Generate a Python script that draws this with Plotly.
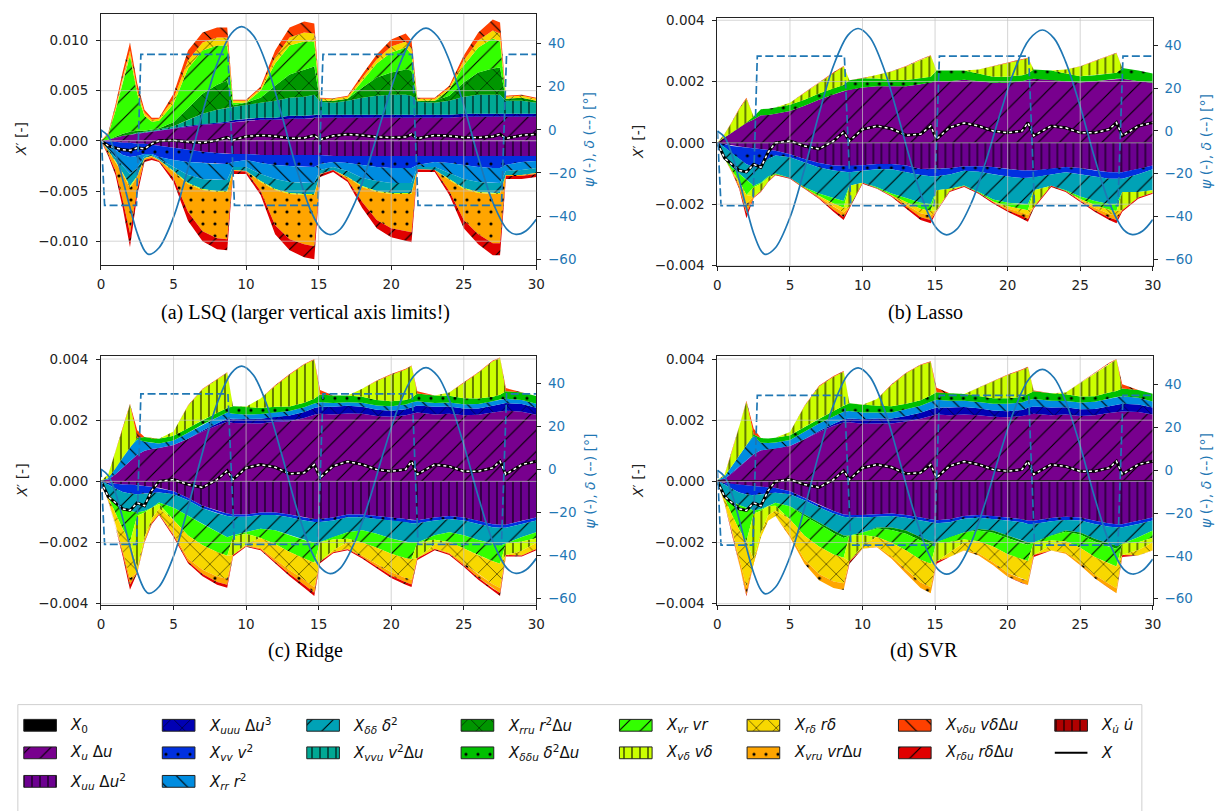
import numpy as np
import plotly.graph_objects as go

W, H = 1232, 811
U = 1e-4  # contribution arrays below are in units of 1e-4

# ---------------- time grid of the contribution series ----------------
T = [0, 0.5, 1, 1.5, 2, 2.5, 3, 3.5, 4, 5, 6, 7, 8, 8.7, 9.1, 10, 11, 12, 13, 14,
     14.7, 15.1, 16, 17, 18, 19, 20, 21, 21.4, 21.8, 23, 24, 25, 26, 27, 27.5, 27.9, 29, 30]

# ---------------- (a) LSQ ----------------
lsq_X0 = 0.0
lsq_Xu = [0, 1, 3, 5, 6, 7, 8, 9, 10, 12, 14, 16, 17, 18, 19, 20, 21, 21, 22, 22,
          23, 23, 23, 23, 23, 23, 23, 23, 23, 23, 23, 23, 24, 24, 24, 24, 24, 24, 24]
lsq_Xuu = [0, -1, -1, -2, -2, -3, -3, -4, -5, -7, -9, -11, -12, -13, -13, -13, -14, -14, -14, -14,
           -14, -14, -15, -15, -15, -15, -15, -15, -15, -15, -15, -15, -15, -15, -15, -15, -15, -15, -15]
lsq_Xuuu = [0, 0, 0, 0, 0, 0, 0, 0, 0.5, 0.5, 1, 1, 1, 1, 1.5, 2, 2, 2, 3, 3,
            3, 3, 3, 3, 3, 3, 3, 3, 3, 3, 3, 3, 3, 3, 3, 3, 3, 3, 3]
lsq_Xvv = [0, -3, -8, -12, -14, -12, -10, -9, -11, -12, -12, -11, -11, -10, -8, -6, -8, -10, -11, -12,
           -12, -9, -6, -7, -9, -11, -12, -12, -12, -9, -6, -7, -9, -11, -12, -12, -9, -6, -5]
lsq_Xrr = [0, -4, -7, -11, -17, -12, -2, -1, -2, -7, -13, -16, -16, -16, -5, -7, -11, -14, -16, -16,
           -16, -6, -5, -8, -13, -14, -15, -15, -15, -2, -5, -10, -14, -15, -15, -15, -6, -8, -7]
lsq_Xdd = [0, -2, -4, -7, -12, -8, -2, -1, -1, -4, -8, -10, -11, -11, -3, -4, -7, -10, -11, -11,
           -11, -4, -3, -6, -8, -10, -10, -10, -10, -2, -3, -6, -9, -10, -10, -10, -4, -5, -5]
lsq_Xvvu = [0, 0, 0, 0, 0, 1, 1, 1, 1, 2, 6, 10, 13, 14, 13, 14, 15, 17, 18, 19,
            20, 13, 12, 14, 17, 19, 20, 20, 19, 13, 12, 14, 17, 19, 19, 19, 13, 13, 11]
lsq_Xrru = [0, 0, 1, 2, 3, 2, 1, 1, 1, 4, 12, 20, 25, 27, 2, 2, 5, 15, 23, 27,
            28, 1, 2, 2, 10, 18, 22, 25, 25, 1, 2, 5, 14, 22, 26, 27, 2, 3, 2]
lsq_Xvr = [0, 5, 26, 52, 76, 37, 15, 8, 7.5, 18.5, 39, 43, 39, 35, 2.5, 0, 7, 22, 29, 28,
           25, 0, 0, 0, 7, 14, 20, 22, 16, 0, 0, 6, 17, 25, 30, 26, 0, 0, 0]
lsq_Xvd = [0, 0, -1, -1, -2, -1, -0.5, -0.5, 0, -1, -1, -1, -1, -1, 0, 0, -1, -1, -1, -1,
           -1, 0, 0, -0.5, -1, -1, -1, -1, -1, 0, 0, -1, -1, -1, -1, -1, 0, 0, 0]
lsq_Xrd = [0, 1, 3, 4, 5, 4, 3, 2, 2, 5, 8, 8, 8, 8, 2, 2, 2, 6, 8, 9,
           8, 2, 2, 2, 3, 4, 6, 6, 6, 2, 2, 2, 5, 7, 8, 8, 2, 2, 2]
lsq_Xvru = [0, -3, -9, -26, -45, -12, -1.5, -1.5, -1, -6, -28, -41, -46, -47, -1, -0.5, -9, -35, -45, -49,
            -51, -0.5, 0, -2.5, -15, -28, -34, -37, -38, -0.5, 0, -11, -31, -41, -49, -49, -1, -1, -1]
lsq_Xvdu = [0, 1, 3, 6, 8, 6, 3, 2, 1, 5, 10, 10, 10, 10, 1, 1, 2, 7, 10, 11,
            10, 1, 0.5, 1, 3, 5, 7, 8, 8, 1, 1, 2, 5, 8, 11, 11, 1, 1, 1]
lsq_Xrdu = [0, -2, -4, -8, -14, -6, -2, -2, -1, -4, -9, -10, -11, -11, -3, -2.5, -4, -9, -11, -13,
            -13, -2.5, -2, -2, -6, -8, -9, -10, -10, -2.5, -2, -4, -8, -10, -12, -12, -3, -3, -3]

# ---------------- (b) Lasso ----------------
las_X0 = 0.1
las_Xu = [0, 1.7, 3.3, 5, 6.5, 7.5, 8.9, 9, 9.4, 10.3, 12, 14, 15.7, 16.8, 17.3, 18, 18.4, 18.4, 18.4, 19,
          19.5, 20, 20, 20.5, 20, 19.5, 19.5, 20, 20.5, 20.8, 20.5, 20, 19.6, 20, 20.5, 20.8, 20.8, 20, 19.5]
las_Xuu = [0, -0.4, -1, -1.2, -1.5, -1.8, -2, -2.3, -2.6, -3.7, -5.3, -6.6, -7.4, -7.5, -7.6, -7.3, -6.9, -6.9, -7.4, -8.5,
           -8.5, -8.5, -8.3, -7.6, -7.6, -7.9, -8.5, -9, -9, -9, -8.5, -7.9, -8.2, -9, -9.6, -9.6, -9.6, -8.5, -7.4]
las_Xvv = [0, -1, -2.5, -4, -5.5, -6, -5, -3, -1.5, -1, -1, -1.4, -1.6, -1.9, -2, -1.8, -1.7, -1.7, -2.2, -2,
           -2.4, -2.4, -2, -1.5, -1.8, -2.3, -2.5, -2.5, -2.5, -2.3, -1.8, -1.7, -2, -2, -2.1, -2.1, -2.1, -1.7, -1.2]
las_Xdd = [0, -3.6, -4.5, -4.8, -5, -6.2, -6, -5.7, -5.9, -6.8, -8.2, -8.5, -9, -9.6, -4.4, -3.9, -5.9, -7.9, -8.4, -9,
           -9.1, -4.6, -4.7, -4.8, -6.6, -8.3, -8.5, -8.5, -8.5, -4.2, -3.7, -5.9, -7.3, -8, -8.3, -8.3, -4.3, -5.8, -6.9]
las_Xddu = [0, 0, 0, 0, 0, 1, 2, 2, 2, 2, 2, 2, 2, 2, 3, 3, 2.5, 2, 2, 2,
            2, 3.5, 3.5, 3, 2.5, 2, 2, 2, 2, 3, 3, 2.5, 2, 2, 2, 2, 3.5, 3.5, 3]
las_Xvr = [0, -0.3, -1, -2.5, -5, -0.5, -0.3, -0.3, -0.3, 0, -0.3, -0.8, -1.8, -2.2, 0, 0, -0.3, -0.6, -1.3, -2,
           -2.2, 0, 0, -0.2, -0.3, -0.6, -1.2, -1.7, -2, 0, 0, -0.2, -0.8, -1.3, -1.8, -2.2, 0, 0, 0]
las_Xvd = [0, 1.1, 3.3, 5.9, 7.8, -3, -2.5, -1.3, 0, 0.7, 2.2, 3.5, 5, 6, -7, 0, 1.1, 2.8, 4.4, 6,
           6.8, -6.6, -0.7, 0, 1.3, 3.3, 4.4, 5, 5, -5.5, 0, 1.3, 3.2, 4.5, 5.8, 6.3, -6, -1.8, -0.8]
las_Xrd = [0, 0, -0.3, -1, -3, 0, 0, 0, 0, 0, 0, -0.4, -1, -1.5, 0, 0, 0, -0.2, -0.8, -1.5,
           -1.5, 0, 0, 0, 0, -0.3, -0.7, -1.1, -1.5, 0, 0, 0, -0.4, -0.9, -1.4, -1.5, 0, 0, 0]
las_Xvru = [0, 0, -0.2, -1, -3, -0.3, 0, 0, 0, 0, 0, -0.3, -1, -1.5, 0, 0, 0, 0, -0.8, -1.3,
            -1.5, 0, 0, 0, 0, 0, -0.6, -1.1, -1.3, 0, 0, 0, 0, -0.8, -1.2, -1.5, 0, 0, 0]
las_Xvdu = [0, 0.1, 0.2, 0.2, 0.3, 0, 0, 0, 0, 0, 0.1, 0.2, 0.2, 0.2, 0, 0, 0, 0.1, 0.2, 0.2,
            0.2, 0, 0, 0, 0, 0.1, 0.2, 0.2, 0.2, 0, 0, 0, 0.1, 0.2, 0.2, 0.2, 0, 0, 0]
las_Xrdu = [0, 0, -0.1, -0.5, -1.6, -0.2, -0.2, -0.2, -0.3, -0.2, -0.2, -0.2, -0.7, -1, -0.4, -0.3, -0.2, -0.3, -0.5, -0.9,
            -1, -0.4, -0.3, -0.3, -0.3, -0.4, -0.5, -0.7, -0.9, -0.4, -0.4, -0.3, -0.5, -0.5, -0.8, -1, -0.5, -0.4, -0.3]

# ---------------- (c) Ridge ----------------
rid_X0 = 0.1
rid_Xu = [0, 0.5, 2.2, 4.3, 6.5, 8.6, 9.9, 10.5, 10.8, 11.8, 13.8, 16.2, 18.2, 19.4, 19, 18.8, 18.8, 19.4, 19.6, 20.6,
          21.7, 22, 21.8, 22.1, 22, 21.3, 21, 21.5, 22, 22.4, 21.8, 22, 21.5, 21.7, 22.4, 22.8, 23, 22.7, 21.7]
rid_Xuu = [0, -0.5, -0.8, -1, -1, -1.2, -1.5, -1.8, -2.1, -3.2, -5.4, -8, -9.6, -10.5, -10.8, -10.8, -10.2, -10.2, -10.8, -11.8,
           -12.3, -12.3, -11.8, -10.8, -10.8, -11.3, -11.8, -12.3, -12.7, -12.7, -11.8, -11.3, -11.8, -12.9, -14, -14.2, -14.2, -12.9, -11.8]
rid_Xuuu = [0, 0, 0, 0, 0, 0, 0, 0, 0, 0, 0, 0.3, 0.6, 1, 1.2, 1.5, 1.6, 1.6, 1.8, 2,
            2.2, 2.3, 2.5, 2.5, 2.3, 2, 2, 2, 2.2, 2.3, 2.5, 2.4, 2.2, 2, 2.2, 2.4, 2.5, 2.5, 2.3]
rid_Xvv = [0, -0.5, -1.5, -2.5, -3, -3, -2.5, -2, -1.5, -1, -0.8, -0.8, -0.8, -0.8, -0.8, -0.8, -0.8, -0.8, -0.9, -1,
           -1, -1, -1, -0.9, -0.9, -1, -1, -1, -1, -1, -1, -1, -1, -1, -1, -1, -1, -1, -1]
rid_Xrr = [0, 0.5, 2, 3.5, 4.5, 5, 3, 2, 1.5, 1.5, 2, 2, 2, 2, 1.8, 1.5, 1.5, 1.5, 1.5, 1.5,
           1.5, 1.5, 1.2, 1.2, 1.3, 1.4, 1.5, 1.5, 1.5, 1.4, 1.2, 1.3, 1.4, 1.5, 1.5, 1.5, 1.4, 1.3, 1.3]
rid_Xdd = [0, -3.3, -4.2, -5.1, -5.7, -6, -5.7, -4.8, -3.3, -4.4, -5, -5.1, -6.2, -7, -6, -5, -4.5, -5, -5.9, -6.4,
           -6.8, -6.5, -5.4, -4.9, -4.3, -4.8, -5.9, -6.5, -6.4, -6.3, -4.8, -4.3, -4.8, -5.3, -5.3, -5.7, -5.1, -4.3, -3.8]
rid_Xddu = [0, 0, 0, 0, 0, 0.5, 1.5, 1.5, 1.5, 1.5, 1.5, 1.5, 1.5, 1.5, 2.5, 2.5, 2, 1.8, 1.5, 1.5,
            1.5, 2.5, 2.5, 2.2, 2, 1.8, 1.6, 1.5, 1.5, 2.5, 2.5, 2.2, 2, 1.8, 1.5, 1.5, 2.5, 2.5, 2.5]
rid_Xvr = [0, -1, -4, -7, -10, -1, -0.5, 0, -0.5, -4, -6.5, -7, -6.5, -6, -0.5, -0.5, -3, -4.5, -5.5, -6,
           -6.5, 0, -0.8, -2.2, -4, -4.6, -5, -5.3, -5.4, 0, -1.5, -3.2, -4.3, -5, -5.8, -6, 0, -1.5, -2]
rid_Xvd = [0, 1.2, 5.5, 9.4, 14, -17, -8, -3.5, -1.5, 1.4, 7.3, 10, 10.9, 11.5, -6, -3.5, 3.1, 6.8, 10.4, 12.5,
           12.8, -6.4, -3.5, -1, 2.6, 6.2, 8.7, 10, 10.4, -5.1, -1.5, 1.1, 5, 8.4, 11.6, 12, -3.8, -3, -1.5]
rid_Xrd = [0, -1, -3.5, -7, -12, -1.5, -1.5, -1.5, -1.8, -4.5, -7.5, -8, -8, -7.5, 0, -0.5, -3.3, -5, -6, -7,
           -8, 0, -0.7, -2.2, -4.2, -5.2, -6, -6.5, -6.7, 0, -1.5, -3.5, -4.8, -6.2, -7.5, -8, 0, -1.5, -2]
rid_Xvru = [0, 0, -0.5, -1, -2, 0, 0, 0, 0, -0.6, -1, -1.4, -1.8, -2, 0, 0, -0.4, -0.8, -1.2, -1.6,
            -1.8, 0, 0, -0.2, -0.5, -0.9, -1.2, -1.4, -1.5, 0, 0, -0.4, -0.7, -1.1, -1.4, -1.6, 0, 0, 0]
rid_Xvdu = [0, 0, 0.1, 0.2, 0.3, 2.5, 0, 0, 0, 0, 0.2, 0.2, 0.2, 0.2, 0, 0, 0, 0.2, 0.2, 0.2,
            0.2, 1.5, 0, 0, 0, 0.2, 0.2, 0.2, 0.2, 0.8, 0, 0, 0.2, 0.2, 0.2, 0.2, 1, 0, 0]
rid_Xrdu = [0, -0.2, -0.5, -1, -1.7, -0.3, -0.3, -0.4, -0.3, -0.5, -0.6, -0.7, -0.9, -1, -0.5, -0.3, -0.3, -0.5, -0.7, -1,
            -1.1, -0.6, -0.3, -0.3, -0.5, -0.6, -0.7, -0.8, -0.8, -0.6, -0.4, -0.4, -0.5, -0.7, -0.9, -1, -0.5, -0.4, -0.4]

# ---------------- (d) SVR ----------------
svr_X0 = 0.35
svr_Xu = [0, 0.5, 2.2, 4.3, 6.5, 8.5, 9.8, 10.2, 10.4, 11.2, 13.4, 15.8, 17.8, 18.9, 19, 18.5, 18.6, 18.6, 19.2, 20.1,
          21, 21.5, 21.3, 21.5, 21.3, 20.8, 20.6, 21, 21.5, 21.8, 21.3, 21.5, 21, 21.3, 22, 22.3, 22.5, 22.3, 21.5]
svr_Xuu = [0, -0.5, -0.9, -1.1, -1.3, -1.5, -1.7, -1.9, -2.2, -3.2, -5.4, -7.7, -9.7, -10.8, -11, -11, -10.8, -10.5, -11, -11.8,
           -12.4, -12.7, -12.4, -11.3, -11, -11.3, -11.8, -12.4, -12.9, -12.9, -12, -11.6, -11.8, -12.9, -13.8, -14, -14, -12.9, -11.8]
svr_Xuuu = [0, 0, 0, 0, 0, 0, 0, 0, 0, 0, 0, 0.3, 0.6, 1, 1.2, 1.5, 1.6, 1.6, 1.8, 2,
            2.2, 2.3, 2.5, 2.5, 2.3, 2, 2, 2, 2.2, 2.3, 2.5, 2.4, 2.2, 2, 2.2, 2.4, 2.5, 2.5, 2.3]
svr_Xvv = [0, -0.5, -1.5, -2.5, -3, -3, -2.5, -2, -1.5, -1, -0.8, -0.8, -0.8, -0.8, -0.8, -0.8, -0.8, -0.8, -0.9, -1,
           -1, -1, -1, -0.9, -0.9, -1, -1, -1, -1, -1, -1, -1, -1, -1, -1, -1, -1, -1, -1]
svr_Xrr = [0, 0.8, 2.5, 4, 5, 6, 2.5, 2, 2, 2, 2.5, 2.5, 2.5, 2.5, 2.5, 2.2, 2, 2, 2.2, 2.3,
           2.5, 2.5, 2.2, 2, 2, 2.2, 2.4, 2.5, 2.5, 2.5, 2.2, 2, 2.2, 2.4, 2.5, 2.5, 2.5, 2.2, 2]
svr_Xdd = [0, -3.3, -4.1, -4.1, -4.3, -5, -4.9, -4.2, -3.3, -3.9, -4.6, -4.9, -5.6, -6.1, -5.9, -4.9, -3.5, -3.8, -4.2, -5.5,
           -6.2, -6.2, -4.9, -4.5, -3.7, -3.8, -4.9, -6, -6, -6, -4.7, -3.5, -3.9, -4.9, -5.6, -6, -5.4, -4.4, -3.3]
svr_Xrru = [0, 0, 0, 0, 0, 0, 0, 0, 0, 0, -0.5, -0.6, -0.8, -0.8, 0, 0, -0.3, -0.8, -1, -1,
            -1, 0, 0, 0, -0.5, -0.7, -0.8, -0.8, -0.8, 0, 0, -0.4, -0.7, -0.9, -1, -1, 0, 0, 0]
svr_Xddu = [0, 0, 0, 0, 0, 0.5, 1.5, 1.5, 1.5, 1.5, 1.5, 1.5, 1.8, 2, 2.5, 2.5, 2.2, 2, 1.8, 1.8,
            2, 2.5, 2.5, 2.2, 2, 1.8, 1.8, 1.8, 2, 2.5, 2.5, 2.2, 2, 1.8, 2, 2, 2.5, 2.5, 2.5]
svr_Xvr = [0, -1.5, -4.5, -8, -11, -1, -0.5, 0, -1, -4.3, -6.5, -7.3, -7, -6.5, 0, -0.8, -2.8, -4.2, -5.5, -6.3,
           -6.3, 0, -1.5, -2.3, -3.5, -4.5, -5.3, -5.3, -5.3, 0, -1.6, -3.1, -4.3, -5, -5.5, -5.8, 0, -1.6, -2.3]
svr_Xvd = [0, 0.6, 4.7, 9.5, 14.2, -15, -7, -3, -1.5, 1.1, 6.8, 10.6, 11.2, 11.1, -8.5, -3.5, 2.2, 7, 10, 11.5,
           11, -6.3, -3.5, -1, 2.7, 5.5, 7.6, 8.8, 8.7, -4.2, -1.5, 0.6, 4.4, 7.5, 9.5, 10.3, -3.7, -2.5, -1.5]
svr_Xrd = [0, -1.5, -5, -9.5, -15, -1.4, -1.7, -1.8, -1.8, -5, -7.8, -9, -8.8, -8.3, 0, -1, -3, -4.5, -6.3, -7.5,
           -7.7, 0, -1.4, -2.4, -4, -5.2, -6.2, -6.4, -6.4, 0, -1.8, -3.6, -4.9, -5.9, -6.6, -7.2, 0, -1.8, -2.5]
svr_Xvru = [0, -0.2, -0.7, -1.7, -2.5, 0, 0, 0, 0, -0.9, -1.3, -2, -2.2, -2.2, 0, 0, -0.3, -0.7, -1.2, -1.8,
            -2, 0, 0, -0.2, -0.6, -0.9, -1.2, -1.4, -1.5, 0, 0, -0.5, -0.8, -1.1, -1.4, -1.6, 0, 0, -0.2]
svr_Xvdu = [0, 0, 0, 0.2, 0.3, 1.9, 0, 0, 0, 0, 0.2, 0.2, 0.2, 0.2, 0, 0, 0, 0.2, 0.2, 0.2,
            0.2, 1.5, 0, 0, 0, 0.2, 0.2, 0.2, 0.2, 0.3, 0, 0, 0.2, 0.2, 0.2, 0.2, 1.4, 0, 0]
svr_Xrdu = [0, 0, 0, 0, -0.5, 0, 0, 0, 0, 0, 0, 0, 0, 0, -0.7, 0, 0, 0, 0, 0,
            0, -0.7, 0, 0, 0, 0, 0, 0, 0, -0.6, 0, 0, 0, 0, 0, 0, -0.6, 0, 0]

# total force X (same in all panels), units 1e-4
X_total = [0, -5, -7, -9, -9.5, -7, -8, -3, 0, 0.6, -1, -2, 0.6, 3.5, 0.6, 4.4, 5.5, 4.6, 2.5, 2.8,
           5.5, 1.2, 5, 6.5, 5.5, 3.9, 3.3, 3.9, 6.6, 2.3, 5.5, 4.9, 3.3, 3.3, 4.4, 6.6, 2.3, 5.5, 6.6]

# heading psi and rudder delta (deg)
T_psi = [0, 0.5, 1, 1.5, 2, 2.5, 3, 3.3, 4, 5, 6, 7, 8, 9, 9.7, 10.5, 11.5, 12.5, 13.5, 14.5,
         15.2, 15.8, 16.5, 17.5, 18.5, 19.5, 20.5, 21.5, 22.4, 23.2, 24, 25, 26, 27, 28, 28.6, 29.3, 30]
psi_deg = [0, -3, -11, -23, -36, -48, -56, -57.8, -54.7, -40.5, -17.8, 7.9, 30.5, 44.8, 47.9, 43.8, 28.6, 5.8, -18.5, -38.2,
           -46.3, -48.6, -46, -33.7, -14.2, 8.4, 28.9, 42.9, 47.2, 43.3, 32.3, 11.4, -12.7, -33.6, -46.3, -48.5, -46.8, -41.5]
T_delta = [0, 0.25, 2.45, 2.75, 8.75, 9.2, 14.95, 15.3, 21.45, 21.85, 27.6, 27.95, 30]
delta_deg = [0, -35, -35, 35, 35, -35, -35, 35, 35, -35, -35, 35, 35]

# ---------------- styles ----------------
ORDER = ['Xu', 'Xuu', 'Xuuu', 'Xvv', 'Xrr', 'Xdd', 'Xvvu', 'Xrru', 'Xddu', 'Xvr', 'Xvd',
         'Xrd', 'Xvru', 'Xvdu', 'Xrdu', 'Xudot']
COLOR = {'X0': '#000000', 'Xu': '#78008e', 'Xuu': '#6c0090', 'Xuuu': '#0000b4', 'Xvv': '#0030e0',
         'Xrr': '#008ce0', 'Xdd': '#00a2b6', 'Xvvu': '#00a894', 'Xrru': '#009600', 'Xddu': '#00c000',
         'Xvr': '#33ff00', 'Xvd': '#ccff00', 'Xrd': '#f8d800', 'Xvru': '#ffa500', 'Xvdu': '#ff4000',
         'Xrdu': '#e00000', 'Xudot': '#b00000'}
HATCH = {'X0': '', 'Xu': '/', 'Xuu': '|', 'Xuuu': 'x', 'Xvv': '.', 'Xrr': '\\', 'Xdd': '/',
         'Xvvu': '|', 'Xrru': 'x', 'Xddu': '.', 'Xvr': '/', 'Xvd': '|', 'Xrd': 'x', 'Xvru': '.',
         'Xvdu': '\\', 'Xrdu': '/', 'Xudot': '|'}
LABEL = {
    'X0': '<i>X</i><sub>0</sub>',
    'Xu': '<i>X<sub>u</sub></i> Δ<i>u</i>',
    'Xuu': '<i>X<sub>uu</sub></i> Δ<i>u</i><sup>2</sup>',
    'Xuuu': '<i>X<sub>uuu</sub></i> Δ<i>u</i><sup>3</sup>',
    'Xvv': '<i>X<sub>vv</sub> v</i><sup>2</sup>',
    'Xrr': '<i>X<sub>rr</sub> r</i><sup>2</sup>',
    'Xdd': '<i>X<sub>δδ</sub> δ</i><sup>2</sup>',
    'Xvvu': '<i>X<sub>vvu</sub> v</i><sup>2</sup>Δ<i>u</i>',
    'Xrru': '<i>X<sub>rru</sub> r</i><sup>2</sup>Δ<i>u</i>',
    'Xddu': '<i>X<sub>δδu</sub> δ</i><sup>2</sup>Δ<i>u</i>',
    'Xvr': '<i>X<sub>vr</sub> vr</i>',
    'Xvd': '<i>X<sub>vδ</sub> vδ</i>',
    'Xrd': '<i>X<sub>rδ</sub> rδ</i>',
    'Xvru': '<i>X<sub>vru</sub> vr</i>Δ<i>u</i>',
    'Xvdu': '<i>X<sub>vδu</sub> vδ</i>Δ<i>u</i>',
    'Xrdu': '<i>X<sub>rδu</sub> rδ</i>Δ<i>u</i>',
    'Xudot': '<i>X<sub>u̇</sub> u̇</i>',
    'X': '<i>X</i>',
}
PSI_COLOR = '#1f77b4'
FONT = 'DejaVu Sans'
GRID = 'rgba(195,195,195,0.7)'


def pattern(key):
    h = HATCH[key]
    if not h:
        return None
    size = {'/': 15, '\\': 15, 'x': 14, '|': 8, '.': 12}[h]
    sol = {'/': 0.075, '\\': 0.075, 'x': 0.075, '|': 0.13, '.': 0.055}[h]
    return dict(shape=h, size=size, solidity=sol, fgcolor='black', bgcolor=COLOR[key],
                fgopacity=1, fillmode='replace')


def build_terms(prefix):
    g = globals()
    return {k: g[prefix + '_' + k] for k in ORDER if (prefix + '_' + k) in g}


PANELS = [
    dict(terms=build_terms('lsq'), x0=lsq_X0, caption='(a) LSQ (larger vertical axis limits!)',
         box=(98, 538, 8, 263), yl=[-0.01235, 0.01265], ytv=[-0.01, -0.005, 0, 0.005, 0.01],
         yr=[-62.6, 53.8], cap=(305, 311)),
    dict(terms=build_terms('las'), x0=las_X0, caption='(b) Lasso',
         box=(721, 1161, 12, 264), yl=[-0.00401, 0.00408], ytv=[-0.004, -0.002, 0, 0.002, 0.004],
         yr=[-63.1, 52.9], cap=(931, 311)),
    dict(terms=build_terms('rid'), x0=rid_X0, caption='(c) Ridge',
         box=(98, 538, 356, 609), yl=[-0.00405, 0.00409], ytv=[-0.004, -0.002, 0, 0.002, 0.004],
         yr=[-63.3, 52.5], cap=(305, 655)),
    dict(terms=build_terms('svr'), x0=svr_X0, caption='(d) SVR',
         box=(721, 1161, 356, 609), yl=[-0.00405, 0.00409], ytv=[-0.004, -0.002, 0, 0.002, 0.004],
         yr=[-63.1, 53.3], cap=(930, 655)),
]

fig = go.Figure()
t = np.array(T, dtype=float)
n = len(t)
layout = {}
annotations = []
shapes = []
XTICKS = [0, 5, 10, 15, 20, 25, 30]

for k, P in enumerate(PANELS, start=1):
    xref = 'x' if k == 1 else f'x{k}'
    yli, yri = 2 * k - 1, 2 * k
    ylref = 'y' if yli == 1 else f'y{yli}'
    yrref = f'y{yri}'
    pos = np.zeros(n)
    neg = np.zeros(n)
    stack = [('X0', np.full(n, P['x0']))] + [(key, np.asarray(v, float)) for key, v in P['terms'].items()]
    for key, vals in stack:
        c = vals * U
        p = np.clip(c, 0, None)
        m = np.clip(c, None, 0)
        xs, ys = [], []
        if p.max() > 0:
            xs += list(t) + list(t[::-1]) + [None]
            ys += list(pos + p) + list(pos[::-1]) + [None]
        if m.min() < 0:
            xs += list(t) + list(t[::-1]) + [None]
            ys += list(neg + m) + list(neg[::-1]) + [None]
        pos = pos + p
        neg = neg + m
        if not xs:
            continue
        kw = dict(x=xs, y=ys, fill='toself', mode='lines', fillcolor=COLOR[key],
                  xaxis=xref, yaxis=ylref, hoverinfo='skip', showlegend=False)
        if key == 'X0':
            kw['line'] = dict(color='black', width=1.3)
        else:
            kw['line'] = dict(width=0)
            kw['fillpattern'] = pattern(key)
        fig.add_trace(go.Scatter(**kw))
    # total X
    xt = np.array(X_total) * U
    fig.add_trace(go.Scatter(x=T, y=xt, mode='lines', line=dict(color='black', width=3),
                             xaxis=xref, yaxis=ylref, hoverinfo='skip', showlegend=False))
    fig.add_trace(go.Scatter(x=T, y=xt, mode='lines', line=dict(color='white', width=1.5, dash='dot'),
                             xaxis=xref, yaxis=ylref, hoverinfo='skip', showlegend=False))
    # psi, delta on secondary axis
    fig.add_trace(go.Scatter(x=T_psi, y=psi_deg, mode='lines',
                             line=dict(color=PSI_COLOR, width=1.7, shape='spline', smoothing=1.0),
                             xaxis=xref, yaxis=yrref, hoverinfo='skip', showlegend=False))
    fig.add_trace(go.Scatter(x=T_delta, y=delta_deg, mode='lines',
                             line=dict(color=PSI_COLOR, width=1.7, dash='8px,3.5px'),
                             xaxis=xref, yaxis=yrref, hoverinfo='skip', showlegend=False))

    x0p, x1p, ytop, ybot = P['box']
    dx = [x0p / W, x1p / W]
    dy = [1 - ybot / H, 1 - ytop / H]
    xkey = 'xaxis' if k == 1 else f'xaxis{k}'
    ylkey = 'yaxis' if yli == 1 else f'yaxis{yli}'
    yrkey = f'yaxis{yri}'
    tickfont = dict(family=FONT, size=13.5, color='#222')
    layout[xkey] = dict(domain=dx, anchor=ylref, range=[0, 30], tickvals=XTICKS,
                        showgrid=False, zeroline=False,
                        showline=True, linecolor='#222', linewidth=1, mirror=True,
                        ticks='outside', ticklen=4, tickcolor='#222', ticklabelstandoff=3,
                        tickfont=tickfont)
    layout[ylkey] = dict(domain=dy, anchor=xref, range=P['yl'], tickvals=P['ytv'], tickformat='.3f',
                         showgrid=False, zeroline=False,
                         showline=True, linecolor='#222', linewidth=1,
                         ticks='outside', ticklen=4, tickcolor='#222', ticklabelstandoff=5,
                         tickfont=tickfont)
    layout[yrkey] = dict(domain=dy, anchor=xref, overlaying=ylref, side='right', range=P['yr'],
                         tickvals=[-60, -40, -20, 0, 20, 40], showgrid=False, zeroline=False,
                         showline=True, linecolor='#222', linewidth=1,
                         ticks='outside', ticklen=4, tickcolor='#222', ticklabelstandoff=4,
                         tickfont=dict(family=FONT, size=13.5, color=PSI_COLOR))
    # grid lines drawn above the filled areas (as in the reference)
    for xv in XTICKS[1:-1]:
        shapes.append(dict(type='line', xref=xref, yref=f'{ylref} domain', x0=xv, x1=xv, y0=0, y1=1,
                           line=dict(color=GRID, width=1), layer='above'))
    for yv in P['ytv']:
        if P['yl'][0] < yv < P['yl'][1]:
            shapes.append(dict(type='line', xref=f'{xref} domain', yref=ylref, x0=0, x1=1, y0=yv, y1=yv,
                               line=dict(color=GRID, width=1), layer='above'))
    # axis titles
    ymid = 1 - (ytop + ybot) / 2 / H
    annotations.append(dict(x=(x0p - 80) / W, y=ymid, xref='paper', yref='paper',
                            text='<i>X</i>′ [-]', textangle=-90, showarrow=False,
                            xanchor='center', yanchor='middle',
                            font=dict(family=FONT, size=14, color='#222')))
    annotations.append(dict(x=(x1p + 54) / W, y=ymid, xref='paper', yref='paper',
                            text='<i>ψ</i> (-), <i>δ</i> (--) [°]', textangle=-90, showarrow=False,
                            xanchor='center', yanchor='middle',
                            font=dict(family=FONT, size=14, color=PSI_COLOR)))
    cx, cy = P['cap']
    annotations.append(dict(x=cx / W, y=1 - cy / H, xref='paper', yref='paper', text=P['caption'],
                            showarrow=False, xanchor='center', yanchor='middle',
                            font=dict(family='Liberation Serif', size=20, color='black')))

# ---------------- legend (drawn on its own pixel-scaled axis) ----------------
LEG_COLS = [['X0', 'Xu', 'Xuu'], ['Xuuu', 'Xvv', 'Xrr'], ['Xdd', 'Xvvu'], ['Xrru', 'Xddu'],
            ['Xvr', 'Xvd'], ['Xrd', 'Xvru'], ['Xvdu', 'Xrdu'], ['Xudot', 'X']]
LEG_X = [20, 160, 306, 462, 622, 751, 904, 1062]
LEG_Y = [731, 759, 788]
SW_W, SW_H = 33, 12
leg_top_frac = 0.145
leg_top_px = H * (1 - leg_top_frac)
for ci, col in enumerate(LEG_COLS):
    for ri, key in enumerate(col):
        lx, ly = LEG_X[ci], LEG_Y[ri]
        if key == 'X':
            fig.add_trace(go.Scatter(x=[lx, lx + SW_W], y=[ly, ly], mode='lines',
                                     line=dict(color='black', width=2), xaxis='x5', yaxis='y9',
                                     hoverinfo='skip', showlegend=False))
        else:
            kw = dict(x=[lx, lx + SW_W, lx + SW_W, lx, lx], y=[ly - SW_H / 2, ly - SW_H / 2, ly + SW_H / 2,
                                                               ly + SW_H / 2, ly - SW_H / 2],
                      fill='toself', mode='lines', fillcolor=COLOR[key], line=dict(color='#222', width=1),
                      xaxis='x5', yaxis='y9', hoverinfo='skip', showlegend=False)
            pt = pattern(key)
            if pt:
                kw['fillpattern'] = pt
            fig.add_trace(go.Scatter(**kw))
        annotations.append(dict(x=lx + SW_W + 12, y=ly, xref='x5', yref='y9', text=LABEL[key],
                                showarrow=False, xanchor='left', yanchor='middle',
                                font=dict(family=FONT, size=15, color='#111')))

layout['xaxis5'] = dict(domain=[0, 1], range=[0, W], visible=False, anchor='y9', fixedrange=True)
layout['yaxis9'] = dict(domain=[0, leg_top_frac], range=[H, leg_top_px], visible=False, anchor='x5',
                        fixedrange=True)

shapes.append(dict(type='rect', xref='paper', yref='paper', x0=14 / W, x1=1150 / W, y0=-0.02,
                   y1=1 - 710 / H, line=dict(color='#cfcfcf', width=1), fillcolor='rgba(0,0,0,0)',
                   layer='below'))

fig.update_layout(width=W, height=H, margin=dict(l=0, r=0, t=0, b=0),
                  paper_bgcolor='white', plot_bgcolor='white', showlegend=False,
                  annotations=annotations, shapes=shapes, **layout)

fig.write_html('out.html')
